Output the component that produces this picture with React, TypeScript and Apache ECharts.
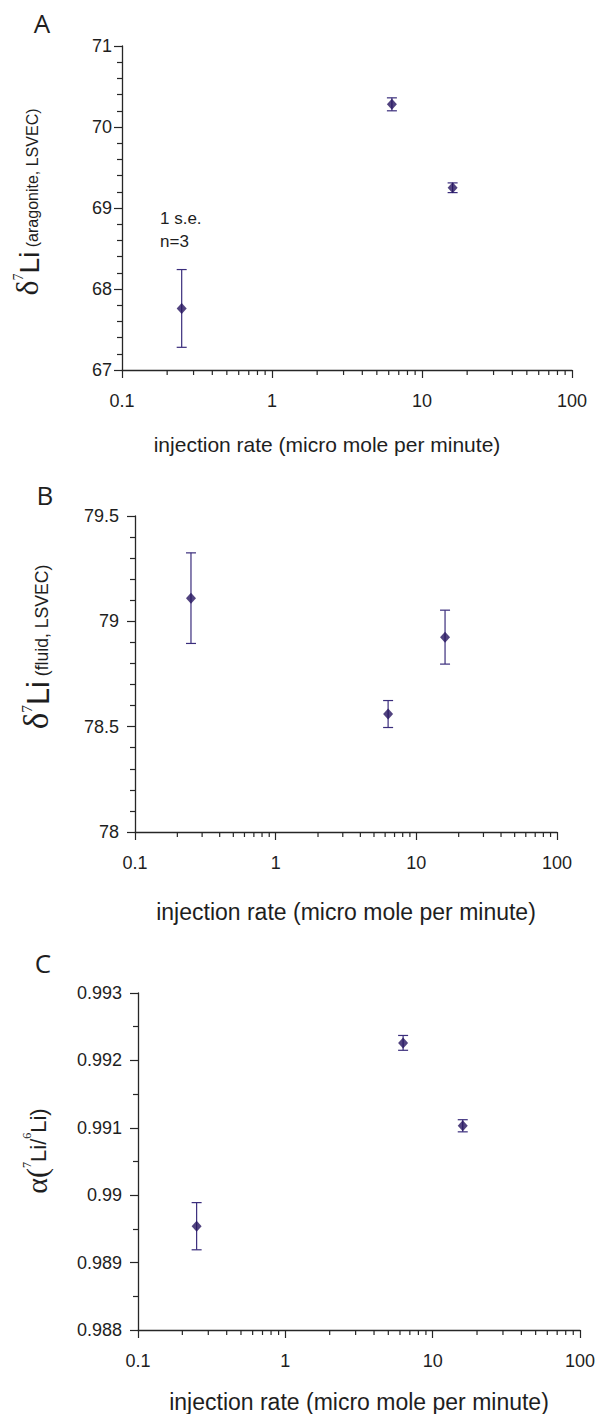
import React, { useEffect, useRef } from "react";
import * as echarts from "echarts";

// ---------- data ----------
const injectionRates = [0.25, 6.3, 16];
const d7LiAragonite = [67.76, 70.28, 69.25];
const d7LiAragoniteSE = [0.48, 0.08, 0.06];
const d7LiFluid = [79.11, 78.56, 78.925];
const d7LiFluidSE = [0.215, 0.064, 0.128];
const alphaValues = [0.98954, 0.99226, 0.99103];
const alphaSE = [0.00035, 0.00011, 0.00009];
const minorXTicks = [0.2, 0.3, 0.4, 0.5, 0.6, 0.7, 0.8, 0.9, 2, 3, 4, 5, 6, 7, 8, 9, 20, 30, 40, 50, 60, 70, 80, 90];
const yMins = [67, 78, 0.988];
const yMaxs = [71, 79.5, 0.993];
const yIntervals = [1, 0.5, 0.001];
const yMinorSplits = [5, 5, 2];
const panelLetters = ["A", "B", "C"];
const xAxisTitle = "injection rate (micro mole per minute)";
const noteLines = ["1 s.e.", "n=3"];

const MARK = "#26145f";
const BAR = "#3a2d7c";
const AX = "#262626";
const TXT = "#1e1e1e";
const SANS = "'Liberation Sans', Arial, sans-serif";
const SERIF = "'Liberation Serif', 'Times New Roman', serif";

export default function App() {
  const ref = useRef<HTMLDivElement>(null);
  useEffect(() => {
    if (!ref.current) return;
    const chart = echarts.init(ref.current, undefined, { renderer: "svg" });

    const grids = [
      { left: 122, top: 46, width: 450, height: 324 },
      { left: 135, top: 516, width: 422, height: 316 },
      { left: 138, top: 993, width: 442, height: 338 },
    ];
    const nameSizes = [21, 23, 23];
    const nameGaps = [64, 68, 60];
    const namePads = [[0, 40, 0, 0], [0, 0, 0, 0], [0, 0, 0, 0]];
    const yLabelMargins = [10, 16, 16];
    const values = [d7LiAragonite, d7LiFluid, alphaValues];
    const errs = [d7LiAragoniteSE, d7LiFluidSE, alphaSE];

    const xAxes = grids.map((_, i) => ({
      type: "log",
      logBase: 10,
      gridIndex: i,
      min: 0.1,
      max: 100,
      axisLine: { show: true, lineStyle: { color: AX, width: 1.3 } },
      axisTick: { show: true, length: 8, lineStyle: { color: AX, width: 1.2 } },
      minorTick: { show: false },
      splitLine: { show: false },
      axisLabel: {
        margin: 22,
        fontSize: 18,
        fontFamily: SANS,
        color: TXT,
        formatter: (v: number) => String(Number(v.toPrecision(6))),
      },
      name: xAxisTitle,
      nameLocation: "middle",
      nameGap: nameGaps[i],
      nameTextStyle: { fontSize: nameSizes[i], fontFamily: SANS, color: TXT, padding: namePads[i] },
    }));

    const yAxes = grids.map((_, i) => ({
      type: "value",
      gridIndex: i,
      min: yMins[i],
      max: yMaxs[i],
      interval: yIntervals[i],
      axisLine: { show: true, lineStyle: { color: AX, width: 1.3 } },
      axisTick: { show: true, length: 8, lineStyle: { color: AX, width: 1.2 } },
      minorTick: { show: true, splitNumber: yMinorSplits[i], length: 5, lineStyle: { color: AX, width: 1.2 } },
      splitLine: { show: false },
      minorSplitLine: { show: false },
      axisLabel: { margin: yLabelMargins[i], fontSize: 18, fontFamily: SANS, color: TXT },
    }));

    const series: any[] = [];
    grids.forEach((_, i) => {
      series.push({
        type: "custom",
        xAxisIndex: i,
        yAxisIndex: i,
        z: 2,
        data: injectionRates.map((x, j) => [x, values[i][j], errs[i][j]]),
        renderItem: (params: any, api: any) => {
          const x = api.value(0);
          const y = api.value(1);
          const e = api.value(2);
          const t = api.coord([x, y + e]);
          const b = api.coord([x, y - e]);
          const hw = 5;
          const st = { stroke: BAR, lineWidth: 1.2 };
          return {
            type: "group",
            children: [
              { type: "line", shape: { x1: t[0], y1: t[1], x2: b[0], y2: b[1] }, style: st },
              { type: "line", shape: { x1: t[0] - hw, y1: t[1], x2: t[0] + hw, y2: t[1] }, style: st },
              { type: "line", shape: { x1: b[0] - hw, y1: b[1], x2: b[0] + hw, y2: b[1] }, style: st },
            ],
          };
        },
      });
      series.push({
        type: "scatter",
        xAxisIndex: i,
        yAxisIndex: i,
        z: 3,
        symbol: "diamond",
        symbolSize: [10, 11],
        itemStyle: { color: MARK },
        data: injectionRates.map((x, j) => [x, values[i][j]]),
      });
      series.push({
        type: "custom",
        xAxisIndex: i,
        yAxisIndex: i,
        clip: false,
        silent: true,
        z: 1,
        data: minorXTicks.map((v) => [v, yMins[i]]),
        renderItem: (params: any, api: any) => {
          const p = api.coord([api.value(0), api.value(1)]);
          return {
            type: "line",
            shape: { x1: p[0], y1: p[1], x2: p[0], y2: p[1] + 5 },
            style: { stroke: AX, lineWidth: 1.2 },
          };
        },
      });
    });

    const letterPos = [
      [42, 23],
      [45, 495],
      [43, 963],
    ];
    const graphics: any[] = panelLetters.map((l, i) => ({
      type: "text",
      x: letterPos[i][0],
      y: letterPos[i][1],
      style: {
        text: l,
        fontSize: 26,
        fontFamily: "'Open Sans', 'Noto Sans', sans-serif",
        fill: TXT,
        align: "center",
        verticalAlign: "middle",
      },
    }));

    graphics.push({
      type: "text",
      x: 160,
      y: 230,
      style: {
        text: noteLines.join("\n"),
        fontSize: 17,
        lineHeight: 23,
        fontFamily: SANS,
        fill: TXT,
        align: "left",
        verticalAlign: "middle",
      },
    });

    const makeDeltaRich = (k: number) => ({
      d: { fontSize: 32 * k, fontFamily: SERIF, fill: TXT, verticalAlign: "bottom" },
      s: { fontSize: 14 * k, fontFamily: SERIF, fill: TXT, verticalAlign: "top" },
      b: { fontSize: 28 * k, fontFamily: SANS, fill: TXT, verticalAlign: "bottom" },
      p: { fontSize: 16 * k, fontFamily: SANS, fill: TXT, verticalAlign: "bottom", padding: [0, 0, 3, 0] },
    });
    graphics.push({
      type: "text",
      x: 27,
      y: 202,
      rotation: Math.PI / 2,
      style: {
        text: "{d|δ}{s|7}{b|Li}{p| (aragonite, LSVEC)}",
        rich: makeDeltaRich(1),
        align: "center",
        verticalAlign: "middle",
      },
    });
    graphics.push({
      type: "text",
      x: 36,
      y: 647,
      rotation: Math.PI / 2,
      style: {
        text: "{d|δ}{s|7}{b|Li}{p| (fluid, LSVEC)}",
        rich: makeDeltaRich(1.1),
        align: "center",
        verticalAlign: "middle",
      },
    });
    graphics.push({
      type: "text",
      x: 36,
      y: 1151,
      rotation: Math.PI / 2,
      style: {
        text: "{a|α(}{s|7}{b|Li/}{s|6}{b|Li)}",
        rich: {
          a: { fontSize: 30, fontFamily: SERIF, fill: TXT, verticalAlign: "bottom" },
          s: { fontSize: 12, fontFamily: SERIF, fill: TXT, verticalAlign: "top" },
          b: { fontSize: 22, fontFamily: SANS, fill: TXT, verticalAlign: "bottom", padding: [0, 0, 2, 0] },
        },
        align: "center",
        verticalAlign: "middle",
      },
    });

    chart.setOption({
      animation: false,
      backgroundColor: "#ffffff",
      grid: grids,
      xAxis: xAxes,
      yAxis: yAxes,
      series,
      graphic: graphics,
    });
    return () => chart.dispose();
  }, []);

  return (
    <div
      ref={ref}
      style={{ position: "absolute", left: 0, top: 0, width: 600, height: 1414, background: "#fff" }}
    />
  );
}
